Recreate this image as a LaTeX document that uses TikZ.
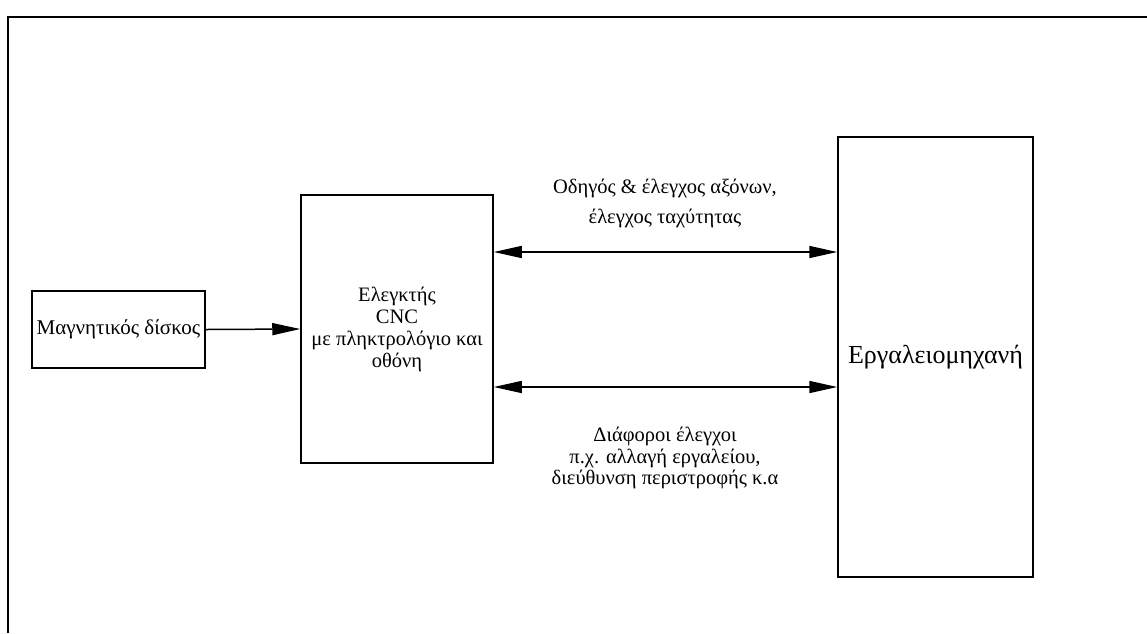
\documentclass[tikz,border=0pt]{standalone}
\usepackage{fontspec}
\setmainfont{Liberation Serif}
\usetikzlibrary{arrows.meta}
\tikzset{
  block/.style={draw, line width=1.5pt, inner sep=1pt, align=center, font=\fontsize{20.5}{22}\selectfont},
  flow/.style={line width=1.5pt, -{Triangle[length=28pt, width=12pt]}},
  dflow/.style={line width=1.5pt, {Triangle[length=28pt, width=12pt]}-{Triangle[length=28pt, width=12pt]}},
  note/.style={align=center, font=\fontsize{20.5}{21.5}\selectfont}
}
\begin{document}
\begin{tikzpicture}[x=1pt, y=-1pt]
\useasboundingbox (0,0) rectangle (1147,633);
% outer frame (top and left edges)
\draw[line width=2pt] (8,633) -- (8,16.5) -- (1147,16.5);
% blocks
\node[block, minimum width=173pt, minimum height=77pt, font=\fontsize{21}{22}\selectfont] (disk) at (118.5,329.5) {Μαγνητικός δίσκος};
\node[block, minimum width=192pt, minimum height=268pt] (cnc) at (397,329) {Ελεγκτής\\CNC\\με πληκτρολόγιο και\\οθόνη};
\node[block, minimum width=195pt, minimum height=440pt, font=\fontsize{26}{28}\selectfont] (tool) at (935.5,357) {Εργαλειομηχανή};
% levels of the two links
\coordinate (l1) at (0,252);
\coordinate (l2) at (0,387);
% connectors
\draw[flow] (disk.east) -- (cnc.west);
\draw[dflow] (cnc.east |- l1) -- (tool.west |- l1);
\draw[dflow] (cnc.east |- l2) -- (tool.west |- l2);
% link labels
\node[note, font=\fontsize{20.5}{30}\selectfont] (n1) at (665,203) {Οδηγός \& έλεγχος αξόνων,\\έλεγχος ταχύτητας};
\node[note] (n2) at (665,458) {Διάφοροι έλεγχοι\\π.χ. αλλαγή εργαλείου,\\διεύθυνση περιστροφής κ.α};
\end{tikzpicture}
\end{document}
